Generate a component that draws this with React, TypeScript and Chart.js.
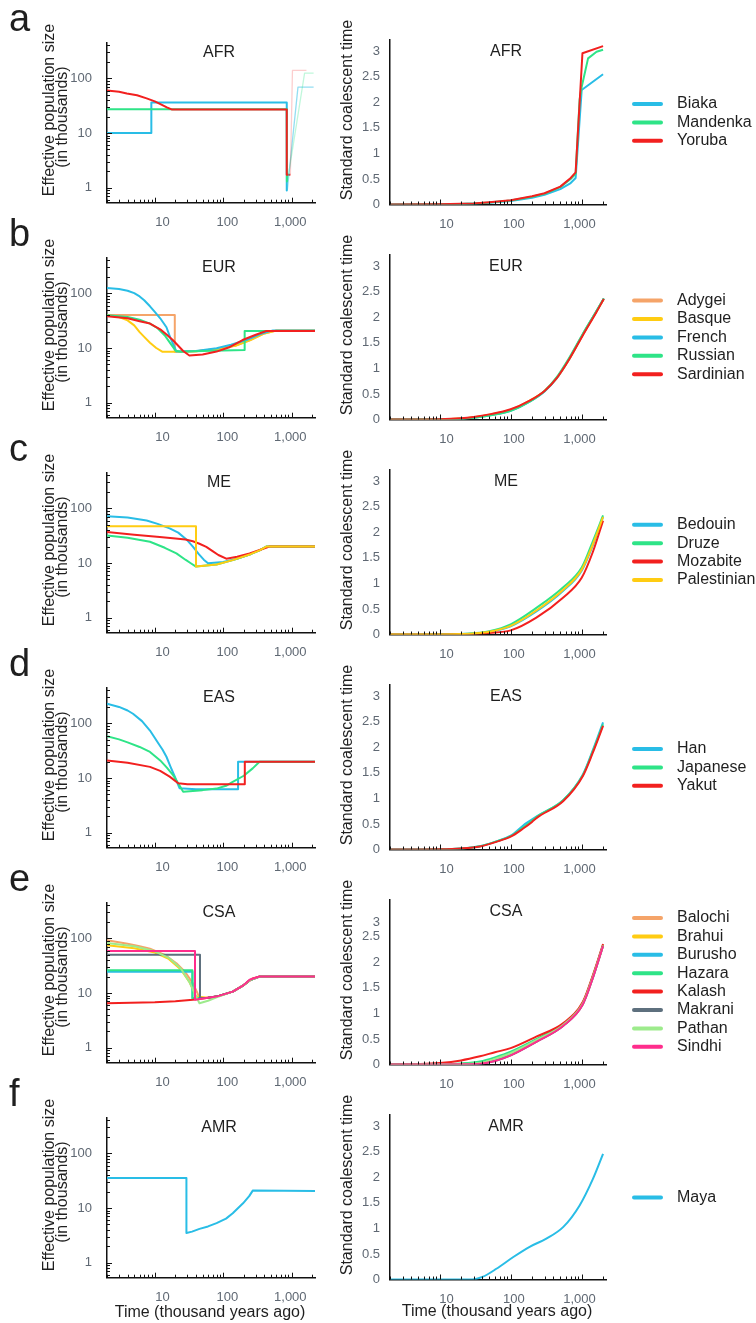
import React, { useEffect, useRef } from 'react';
import { Chart, registerables } from 'chart.js';

Chart.register(...registerables);

const FONT = '"Liberation Sans", Arial, Helvetica, sans-serif';
const TICK_COLOR = '#5f6873';
const TEXT_COLOR = '#1f1f1f';

const BLUE = '#29bde6';
const GREEN = '#2ee487';
const RED = '#f2201f';
const ORANGE = '#f5a469';
const YELLOW = '#ffcc12';
const GRAY = '#5e707e';
const LIGHTGREEN = '#9deb8c';
const PINK = '#ff2d8c';
const BLUE_FADED = 'rgba(41,189,230,0.5)';
const GREEN_FADED = 'rgba(46,228,135,0.3)';
const RED_FADED = 'rgba(242,32,31,0.22)';

// ---------- axes / ticks ----------
const X_MIN = 2;
const X_MAX = 2200;
const xTickValues = [10, 100, 1000];
const xTickLabels = ['10', '100', '1,000'];
const xMinorTickValues = [2, 3, 4, 5, 6, 7, 8, 9, 20, 30, 40, 50, 60, 70, 80, 90, 200, 300, 400, 500, 600, 700, 800, 900, 2000];
const NE_MIN = 0.53;
const NE_MAX = 450;
const neYTickValues = [1, 10, 100];
const neYTickLabels = ['1', '10', '100'];
const neYMinorTickValues = [0.6, 0.7, 0.8, 0.9, 2, 3, 4, 5, 6, 7, 8, 9, 20, 30, 40, 50, 60, 70, 80, 90, 200, 300, 400];
const COAL_MAX = 3.22;
const coalYTickValues = [0, 0.5, 1, 1.5, 2, 2.5, 3];
const coalYTickLabels = ['0', '0.5', '1', '1.5', '2', '2.5', '3'];
const csaCoalYTickValues = [0, 0.5, 1, 1.5, 2, 2.5, 2.78];

type Pt = [number, number];

// ---------- a: AFR ----------
const afrNeBiaka: Pt[] = [[2, 10], [8.9, 10], [8.9, 36], [850, 36], [850, 0.89], [865, 0.89]];
const afrNeBiakaAncient: Pt[] = [[865, 0.89], [1240, 69], [2100, 69]];
const afrNeMandenka: Pt[] = [[2, 27.3], [850, 27.3], [855, 1.3], [870, 1.3]];
const afrNeMandenkaAncient: Pt[] = [[870, 1.3], [1550, 125], [2100, 125]];
const afrNeYoruba: Pt[] = [[2, 60], [3, 57], [3.9, 53], [5.5, 49], [7.6, 43], [10, 38], [12.5, 33], [15, 29.5], [17.6, 27], [850, 27], [850, 1.72], [960, 1.72]];
const afrNeYorubaAncient: Pt[] = [[960, 1.72], [1030, 140], [1650, 140]];

const afrCoalBiaka: Pt[] = [[2, 0], [10, 0.003], [20, 0.01], [30, 0.018], [50, 0.035], [100, 0.07], [200, 0.13], [300, 0.19], [500, 0.3], [700, 0.42], [822, 0.52], [1000, 2.24], [2000, 2.55]];
const afrCoalMandenka: Pt[] = [[2, 0], [10, 0.004], [20, 0.012], [30, 0.02], [50, 0.04], [100, 0.08], [200, 0.15], [300, 0.21], [500, 0.34], [700, 0.5], [822, 0.6], [935, 2.05], [1000, 2.3], [1230, 2.86], [1620, 2.99], [2000, 3.03]];
const afrCoalYoruba: Pt[] = [[2, 0], [10, 0.005], [20, 0.013], [30, 0.022], [50, 0.045], [100, 0.085], [200, 0.16], [300, 0.22], [500, 0.35], [700, 0.52], [822, 0.63], [1025, 2.96], [2000, 3.1]];

// ---------- b: EUR ----------
const eurNeAdygei: Pt[] = [[2, 40], [19.6, 40], [19.6, 8.5], [40, 8.7], [80, 9.6], [150, 11], [250, 14], [400, 18.5], [600, 21], [2200, 21]];
const eurNeBasque: Pt[] = [[2, 40], [3, 37], [4, 32], [5, 26], [6, 19.5], [7, 16], [8.5, 12.5], [10.5, 10], [13, 8.5], [20, 8.5], [40, 8.7], [80, 9.6], [150, 11], [250, 14], [400, 18.5], [600, 21], [2200, 21]];
const eurNeFrench: Pt[] = [[2, 125], [3, 120], [4, 112], [5, 101], [6, 88], [7, 75], [8.5, 58], [10, 46], [12, 35], [14.8, 24], [17, 15], [19, 11], [20.7, 8.6], [40, 8.8], [80, 9.9], [130, 11.5], [219, 14], [350, 18], [535, 21], [2200, 21]];
const eurNeRussian: Pt[] = [[2, 40], [4, 37], [6, 33], [8.5, 28], [11, 23], [14, 17], [17, 12], [20, 9], [24, 8.5], [50, 8.8], [100, 9], [206, 9.2], [206, 20.5], [2200, 20.5]];
const eurNeSardinian: Pt[] = [[2, 38], [4, 35], [6, 31], [8.5, 28], [12, 22], [15, 17.5], [18.3, 14], [22, 11], [26, 8.8], [32, 7.3], [50, 7.6], [80, 8.6], [120, 10.2], [192, 14], [300, 17.5], [427, 20.5], [2200, 20.5]];

const eurCoalAdygei: Pt[] = [[2, 0], [10, 0.005], [20, 0.02], [30, 0.04], [50, 0.09], [100, 0.18], [185, 0.36], [300, 0.56], [440, 0.81], [675, 1.2], [1040, 1.67], [1610, 2.12], [2050, 2.37]];
const eurCoalBasque: Pt[] = [[2, 0], [10, 0.006], [20, 0.022], [30, 0.045], [50, 0.095], [100, 0.19], [185, 0.37], [300, 0.56], [440, 0.8], [675, 1.19], [1040, 1.66], [1610, 2.11], [2050, 2.36]];
const eurCoalFrench: Pt[] = [[2, 0], [10, 0.004], [20, 0.015], [30, 0.035], [50, 0.08], [100, 0.17], [185, 0.35], [300, 0.55], [440, 0.8], [675, 1.2], [1040, 1.67], [1610, 2.12], [2050, 2.37]];
const eurCoalRussian: Pt[] = [[2, 0], [10, 0.004], [20, 0.016], [30, 0.036], [50, 0.08], [100, 0.17], [185, 0.35], [300, 0.56], [440, 0.82], [675, 1.22], [1040, 1.68], [1610, 2.12], [2050, 2.37]];
const eurCoalSardinian: Pt[] = [[2, 0], [10, 0.006], [20, 0.024], [30, 0.05], [50, 0.1], [100, 0.2], [185, 0.37], [300, 0.56], [440, 0.8], [675, 1.19], [1040, 1.65], [1610, 2.1], [2050, 2.36]];

// ---------- c: ME ----------
const meNeBedouin: Pt[] = [[2, 72], [4, 68], [7.6, 60], [11, 52], [16.5, 43], [22, 36], [29, 27], [36, 20], [44, 14.5], [52, 11.5], [60, 9.9], [100, 10.4], [160, 12], [250, 14.5], [340, 17], [427, 20], [2200, 20]];
const meNeDruze: Pt[] = [[2, 32], [4, 29], [8.5, 24.5], [14, 19], [20.7, 15], [28, 11.5], [34, 9.8], [40, 8.6], [80, 9.4], [138, 11.3], [250, 14.5], [340, 17], [427, 20], [2200, 20]];
const meNeMozabite: Pt[] = [[2, 37], [5, 33], [11.8, 30], [20, 28], [28, 27], [36, 25], [45, 22.5], [56.6, 19.8], [70, 16.5], [85, 14], [111, 12], [160, 13], [243, 15], [350, 17.5], [475, 20], [2200, 20]];
const meNePalestinian: Pt[] = [[2, 47], [40, 47], [40, 8.6], [80, 9.4], [138, 11.3], [250, 14.5], [340, 17], [427, 20], [2200, 20]];

const meCoalBedouin: Pt[] = [[2, 0], [10, 0.002], [20, 0.008], [30, 0.02], [50, 0.05], [100, 0.16], [230, 0.45], [545, 0.85], [1000, 1.25], [1440, 1.75], [2000, 2.3]];
const meCoalDruze: Pt[] = [[2, 0], [10, 0.003], [20, 0.01], [30, 0.025], [50, 0.065], [100, 0.2], [230, 0.52], [545, 0.92], [1000, 1.31], [1440, 1.83], [2000, 2.33]];
const meCoalMozabite: Pt[] = [[2, 0], [10, 0.002], [20, 0.005], [30, 0.01], [50, 0.03], [100, 0.08], [230, 0.33], [545, 0.72], [1000, 1.11], [1440, 1.62], [2000, 2.23]];
const meCoalPalestinian: Pt[] = [[2, 0], [10, 0.002], [20, 0.008], [30, 0.02], [50, 0.055], [100, 0.17], [230, 0.47], [545, 0.87], [1000, 1.27], [1440, 1.77], [2000, 2.3]];

// ---------- d: EAS ----------
const easNeHan: Pt[] = [[2, 229], [3, 200], [4, 172], [4.8, 150], [6.5, 110], [8.5, 74], [11, 45], [13, 33], [14.8, 24.5], [17, 16], [20, 10], [23, 6.5], [40, 6.2], [165, 6.2], [165, 19.8], [2200, 19.8]];
const easNeJapanese: Pt[] = [[2, 58], [3, 51], [4, 45], [6, 37], [8.5, 30], [12, 21], [15, 15.5], [18.5, 11.3], [22, 8], [26, 5.6], [50, 6], [80, 6.4], [110, 7.2], [138, 8.5], [200, 11], [270, 15], [340, 19.8], [2200, 19.8]];
const easNeYakut: Pt[] = [[2, 21], [4, 19], [8.5, 16], [12, 13.5], [16.5, 10.6], [22, 8], [30, 7.7], [207, 7.7], [207, 19.8], [2200, 19.8]];

const easCoalHan: Pt[] = [[2, 0], [10, 0.005], [20, 0.02], [37, 0.065], [63, 0.16], [100, 0.27], [150, 0.47], [168, 0.52], [233, 0.65], [552, 0.97], [1040, 1.47], [1440, 1.95], [2000, 2.49]];
const easCoalJapanese: Pt[] = [[2, 0], [10, 0.005], [20, 0.02], [37, 0.065], [63, 0.16], [100, 0.26], [150, 0.43], [200, 0.56], [233, 0.64], [552, 0.97], [1040, 1.46], [1440, 1.93], [2000, 2.45]];
const easCoalYakut: Pt[] = [[2, 0], [10, 0.005], [20, 0.02], [37, 0.06], [63, 0.15], [100, 0.25], [150, 0.41], [200, 0.54], [233, 0.62], [552, 0.95], [1040, 1.44], [1440, 1.9], [2000, 2.42]];

// ---------- e: CSA ----------
const csaNeBalochi: Pt[] = [[2, 92], [4, 80], [6, 72], [8.5, 65], [14, 50], [20.7, 35], [28, 24], [36, 15], [42, 10], [45, 8], [60, 8.2], [80, 8.6], [138, 10.6], [200, 14], [243, 17], [340, 20], [2200, 20]];
const csaNeBrahui: Pt[] = [[2, 75], [5, 66], [10, 55], [16, 42], [24, 27], [32, 16], [37, 11], [40, 8.6], [60, 8.2], [80, 8.6], [138, 10.6], [200, 14], [243, 17], [340, 20], [2200, 20]];
const csaNeBurusho: Pt[] = [[2, 24.5], [35.5, 24.5], [35.5, 8], [60, 8.2], [80, 8.6], [138, 10.6], [200, 14], [243, 17], [340, 20], [2200, 20]];
const csaNeHazara: Pt[] = [[2, 26], [35.5, 26], [35.5, 8], [60, 8.2], [80, 8.6], [138, 10.6], [200, 14], [243, 17], [340, 20], [2200, 20]];
const csaNeKalash: Pt[] = [[2, 6.5], [10, 6.8], [20, 7.1], [36, 7.5], [60, 8.2], [80, 8.6], [138, 10.6], [200, 14], [270, 18.5], [340, 20], [2200, 20]];
const csaNeMakrani: Pt[] = [[2, 50], [45.8, 50], [45.8, 8], [60, 8.2], [80, 8.6], [138, 10.6], [200, 14], [243, 17], [340, 20], [2200, 20]];
const csaNePathan: Pt[] = [[2, 82], [5, 72], [10, 58], [16, 44], [24, 28], [32, 16], [38, 10], [45, 6.5], [60, 7.2], [80, 8.3], [138, 10.6], [200, 14], [243, 17], [340, 20], [2200, 20]];
const csaNeSindhi: Pt[] = [[2, 59], [38.7, 59], [38.7, 7.5], [60, 8.2], [80, 8.6], [138, 10.6], [200, 14], [243, 17.5], [340, 20], [2200, 20]];

const csaCoalBalochi: Pt[] = [[2, 0], [10, 0.003], [20, 0.01], [37, 0.03], [60, 0.1], [100, 0.21], [233, 0.48], [552, 0.78], [1040, 1.21], [1440, 1.73], [2000, 2.34]];
const csaCoalBrahui: Pt[] = [[2, 0], [10, 0.003], [20, 0.01], [37, 0.03], [60, 0.1], [100, 0.21], [233, 0.48], [552, 0.78], [1040, 1.2], [1440, 1.72], [2000, 2.33]];
const csaCoalBurusho: Pt[] = [[2, 0], [10, 0.002], [20, 0.006], [37, 0.02], [60, 0.08], [100, 0.19], [233, 0.46], [552, 0.77], [1040, 1.19], [1440, 1.71], [2000, 2.33]];
const csaCoalHazara: Pt[] = [[2, 0], [10, 0.005], [20, 0.02], [37, 0.06], [60, 0.14], [100, 0.25], [233, 0.5], [552, 0.79], [1040, 1.21], [1440, 1.73], [2000, 2.34]];
const csaCoalKalash: Pt[] = [[2, 0], [5, 0.01], [10, 0.03], [20, 0.08], [37, 0.16], [60, 0.24], [100, 0.32], [233, 0.55], [552, 0.81], [1040, 1.23], [1440, 1.75], [2000, 2.36]];
const csaCoalMakrani: Pt[] = [[2, 0], [10, 0.002], [20, 0.005], [37, 0.015], [60, 0.07], [100, 0.18], [233, 0.45], [552, 0.76], [1040, 1.18], [1440, 1.7], [2000, 2.32]];
const csaCoalPathan: Pt[] = [[2, 0], [10, 0.003], [20, 0.01], [37, 0.03], [60, 0.11], [100, 0.22], [233, 0.48], [552, 0.78], [1040, 1.2], [1440, 1.72], [2000, 2.33]];
const csaCoalSindhi: Pt[] = [[2, 0], [10, 0.002], [20, 0.005], [37, 0.015], [60, 0.07], [100, 0.18], [233, 0.45], [552, 0.76], [1040, 1.18], [1440, 1.7], [2000, 2.32]];

// ---------- f: AMR ----------
const amrNeMaya: Pt[] = [[2, 35.6], [29, 35.6], [29, 3.5], [35, 3.7], [45, 4.15], [60, 4.6], [80, 5.3], [110, 6.4], [138, 8], [195, 12.2], [240, 16.5], [272, 21], [2200, 20.5]];
const amrCoalMaya: Pt[] = [[2, 0], [29, 0], [40, 0.05], [63, 0.21], [109, 0.44], [185, 0.64], [318, 0.8], [552, 1.03], [935, 1.45], [1440, 1.97], [2000, 2.46]];

interface SeriesDef { label: string; color: string; data: Pt[]; faded?: boolean }
interface PanelDef {
  letter: string;
  title: string;
  ne: SeriesDef[];
  coal: SeriesDef[];
  smoothCoal: boolean;
  coalTicks: number[];
}

const panels: PanelDef[] = [
  {
    letter: 'a', title: 'AFR', smoothCoal: false, coalTicks: coalYTickValues,
    ne: [
      { label: 'Biaka', color: BLUE, data: afrNeBiaka },
      { label: 'Mandenka', color: GREEN, data: afrNeMandenka },
      { label: 'Yoruba', color: RED, data: afrNeYoruba },
      { label: '', color: BLUE_FADED, data: afrNeBiakaAncient, faded: true },
      { label: '', color: GREEN_FADED, data: afrNeMandenkaAncient, faded: true },
      { label: '', color: RED_FADED, data: afrNeYorubaAncient, faded: true },
    ],
    coal: [
      { label: 'Biaka', color: BLUE, data: afrCoalBiaka },
      { label: 'Mandenka', color: GREEN, data: afrCoalMandenka },
      { label: 'Yoruba', color: RED, data: afrCoalYoruba },
    ],
  },
  {
    letter: 'b', title: 'EUR', smoothCoal: true, coalTicks: coalYTickValues,
    ne: [
      { label: 'Adygei', color: ORANGE, data: eurNeAdygei },
      { label: 'Basque', color: YELLOW, data: eurNeBasque },
      { label: 'French', color: BLUE, data: eurNeFrench },
      { label: 'Russian', color: GREEN, data: eurNeRussian },
      { label: 'Sardinian', color: RED, data: eurNeSardinian },
    ],
    coal: [
      { label: 'Adygei', color: ORANGE, data: eurCoalAdygei },
      { label: 'Basque', color: YELLOW, data: eurCoalBasque },
      { label: 'French', color: BLUE, data: eurCoalFrench },
      { label: 'Russian', color: GREEN, data: eurCoalRussian },
      { label: 'Sardinian', color: RED, data: eurCoalSardinian },
    ],
  },
  {
    letter: 'c', title: 'ME', smoothCoal: true, coalTicks: coalYTickValues,
    ne: [
      { label: 'Bedouin', color: BLUE, data: meNeBedouin },
      { label: 'Druze', color: GREEN, data: meNeDruze },
      { label: 'Mozabite', color: RED, data: meNeMozabite },
      { label: 'Palestinian', color: YELLOW, data: meNePalestinian },
    ],
    coal: [
      { label: 'Bedouin', color: BLUE, data: meCoalBedouin },
      { label: 'Druze', color: GREEN, data: meCoalDruze },
      { label: 'Mozabite', color: RED, data: meCoalMozabite },
      { label: 'Palestinian', color: YELLOW, data: meCoalPalestinian },
    ],
  },
  {
    letter: 'd', title: 'EAS', smoothCoal: true, coalTicks: coalYTickValues,
    ne: [
      { label: 'Han', color: BLUE, data: easNeHan },
      { label: 'Japanese', color: GREEN, data: easNeJapanese },
      { label: 'Yakut', color: RED, data: easNeYakut },
    ],
    coal: [
      { label: 'Han', color: BLUE, data: easCoalHan },
      { label: 'Japanese', color: GREEN, data: easCoalJapanese },
      { label: 'Yakut', color: RED, data: easCoalYakut },
    ],
  },
  {
    letter: 'e', title: 'CSA', smoothCoal: true, coalTicks: csaCoalYTickValues,
    ne: [
      { label: 'Balochi', color: ORANGE, data: csaNeBalochi },
      { label: 'Brahui', color: YELLOW, data: csaNeBrahui },
      { label: 'Burusho', color: BLUE, data: csaNeBurusho },
      { label: 'Hazara', color: GREEN, data: csaNeHazara },
      { label: 'Kalash', color: RED, data: csaNeKalash },
      { label: 'Makrani', color: GRAY, data: csaNeMakrani },
      { label: 'Pathan', color: LIGHTGREEN, data: csaNePathan },
      { label: 'Sindhi', color: PINK, data: csaNeSindhi },
    ],
    coal: [
      { label: 'Balochi', color: ORANGE, data: csaCoalBalochi },
      { label: 'Brahui', color: YELLOW, data: csaCoalBrahui },
      { label: 'Burusho', color: BLUE, data: csaCoalBurusho },
      { label: 'Hazara', color: GREEN, data: csaCoalHazara },
      { label: 'Kalash', color: RED, data: csaCoalKalash },
      { label: 'Makrani', color: GRAY, data: csaCoalMakrani },
      { label: 'Pathan', color: LIGHTGREEN, data: csaCoalPathan },
      { label: 'Sindhi', color: PINK, data: csaCoalSindhi },
    ],
  },
  {
    letter: 'f', title: 'AMR', smoothCoal: true, coalTicks: coalYTickValues,
    ne: [{ label: 'Maya', color: BLUE, data: amrNeMaya }],
    coal: [{ label: 'Maya', color: BLUE, data: amrCoalMaya }],
  },
];

// ---------- layout ----------
const ROW_H = 215;
const PAGE_H = 1323;
const LEFT_W = 330;
const RIGHT_X = 330;
const RIGHT_W = 426;
const NE_TOP = 42.7;
const NE_PLOT_H = 160;
const COAL_TOP = 40;
const COAL_PLOT_H = 164.5;

const decorPlugin = {
  id: 'decor',
  afterDraw(chart: any, _args: any, o: any) {
    const ctx = chart.ctx as CanvasRenderingContext2D;
    const ca = chart.chartArea;
    const xs = chart.scales.x;
    const ys = chart.scales.y;
    ctx.save();
    ctx.strokeStyle = '#111';
    ctx.lineWidth = 1;
    ctx.beginPath();
    for (const v of xMinorTickValues) {
      const p = Math.round(xs.getPixelForValue(v)) + 0.5;
      ctx.moveTo(p, ca.bottom);
      ctx.lineTo(p, ca.bottom - 3);
    }
    for (const v of xTickValues) {
      const p = Math.round(xs.getPixelForValue(v)) + 0.5;
      ctx.moveTo(p, ca.bottom);
      ctx.lineTo(p, ca.bottom - 5);
    }
    if (o.logY) {
      for (const v of neYMinorTickValues) {
        const q = Math.round(ys.getPixelForValue(v)) + 0.5;
        ctx.moveTo(ca.left, q);
        ctx.lineTo(ca.left + 3, q);
      }
      for (const v of neYTickValues) {
        const q = Math.round(ys.getPixelForValue(v)) + 0.5;
        ctx.moveTo(ca.left, q);
        ctx.lineTo(ca.left + 5, q);
      }
    }
    ctx.stroke();

    ctx.fillStyle = TEXT_COLOR;
    ctx.textAlign = 'center';
    ctx.textBaseline = 'middle';
    ctx.font = `16px ${FONT}`;
    ctx.fillText(o.title, o.titleX, o.titleY);

    for (const t of o.yTitles) {
      ctx.save();
      ctx.translate(t.x, t.y);
      ctx.rotate(-Math.PI / 2);
      ctx.fillText(t.text, 0, 0);
      ctx.restore();
    }
    if (o.xTitle) {
      ctx.fillText(o.xTitle.text, o.xTitle.x, o.xTitle.y);
    }
    if (o.letter) {
      ctx.font = `38px ${FONT}`;
      ctx.textAlign = 'left';
      ctx.textBaseline = 'alphabetic';
      ctx.fillText(o.letter, 9, 31);
    }
    if (o.legend) {
      const items = chart.data.datasets.filter((d: any) => d.showInLegend);
      const n = items.length;
      items.forEach((d: any, i: number) => {
        const cy = 122.4 + (i - (n - 1) / 2) * 18.4;
        ctx.strokeStyle = d.borderColor;
        ctx.lineWidth = 4;
        ctx.lineCap = 'round';
        ctx.beginPath();
        ctx.moveTo(304, cy);
        ctx.lineTo(331, cy);
        ctx.stroke();
        ctx.fillStyle = TEXT_COLOR;
        ctx.font = `16px ${FONT}`;
        ctx.textAlign = 'left';
        ctx.textBaseline = 'middle';
        ctx.fillText(d.label, 347, cy);
      });
    }
    ctx.restore();
  },
};

function xScale(height: number, labelOffset: number) {
  return {
    type: 'logarithmic',
    position: 'bottom',
    min: X_MIN,
    max: X_MAX,
    afterBuildTicks: (s: any) => { s.ticks = xTickValues.map((v) => ({ value: v })); },
    afterFit: (s: any) => { s.height = height; },
    grid: { display: false, drawTicks: false },
    border: { display: true, color: '#111', width: 1.5 },
    ticks: {
      autoSkip: false, maxRotation: 0, minRotation: 0, align: 'end', labelOffset, padding: 12,
      color: TICK_COLOR, font: { family: FONT, size: 13 },
      callback: (_v: any, i: number) => xTickLabels[i],
    },
  };
}

function makeDatasets(series: SeriesDef[], smooth: boolean, legend: boolean) {
  return series.map((s, i) => ({
    label: s.label,
    data: s.data.map(([x, y]) => ({ x, y })),
    borderColor: s.color,
    backgroundColor: s.color,
    borderWidth: s.faded ? 1.3 : 2,
    pointRadius: 0,
    tension: 0,
    cubicInterpolationMode: smooth ? 'monotone' : 'default',
    fill: false,
    order: series.length - i,
    borderJoinStyle: 'round',
    showInLegend: legend && !s.faded,
  }));
}

function buildNeConfig(p: PanelDef, row: number, h: number): any {
  const last = row === panels.length - 1;
  return {
    type: 'line',
    data: { datasets: makeDatasets(p.ne, false, false) },
    options: {
      responsive: false, animation: false, devicePixelRatio: 1, events: [],
      layout: { padding: { left: 0, right: 15, top: NE_TOP, bottom: 0 } },
      scales: {
        x: xScale(h - NE_TOP - NE_PLOT_H, 15),
        y: {
          type: 'logarithmic', min: NE_MIN, max: NE_MAX,
          afterBuildTicks: (s: any) => { s.ticks = neYTickValues.map((v) => ({ value: v })); },
          afterFit: (s: any) => { s.width = 107; },
          grid: { display: false, drawTicks: false },
          border: { display: true, color: '#111', width: 1.5 },
          ticks: {
            autoSkip: false, padding: 15, color: TICK_COLOR, font: { family: FONT, size: 13 },
            callback: (_v: any, i: number) => neYTickLabels[i],
          },
        },
      },
      plugins: {
        legend: { display: false },
        tooltip: { enabled: false },
        decor: {
          logY: true,
          letter: p.letter,
          title: p.title, titleX: 219, titleY: 52.5,
          yTitles: [
            { text: 'Effective population size', x: 50, y: 110 },
            { text: '(in thousands)', x: 62.5, y: 117 },
          ],
          xTitle: last ? { text: 'Time (thousand years ago)', x: 210, y: 238 } : null,
        },
      },
    },
    plugins: [decorPlugin],
  };
}

function buildCoalConfig(p: PanelDef, row: number, h: number): any {
  const last = row === panels.length - 1;
  return {
    type: 'line',
    data: { datasets: makeDatasets(p.coal, p.smoothCoal, true) },
    options: {
      responsive: false, animation: false, devicePixelRatio: 1, events: [],
      layout: { padding: { left: 0, right: 150, top: COAL_TOP, bottom: 0 } },
      scales: {
        x: xScale(h - COAL_TOP - COAL_PLOT_H, 14),
        y: {
          type: 'linear', min: 0, max: COAL_MAX,
          afterBuildTicks: (s: any) => { s.ticks = p.coalTicks.map((v) => ({ value: v })); },
          afterFit: (s: any) => { s.width = 60; },
          grid: { display: false, drawTicks: false },
          border: { display: true, color: '#111', width: 1.5 },
          ticks: {
            autoSkip: false, padding: 10, color: TICK_COLOR, font: { family: FONT, size: 13 },
            callback: (_v: any, i: number) => coalYTickLabels[i],
          },
        },
      },
      plugins: {
        legend: { display: false },
        tooltip: { enabled: false },
        decor: {
          logY: false,
          letter: null,
          title: p.title, titleX: 176, titleY: 52,
          yTitles: [{ text: 'Standard coalescent time', x: 18, y: 110 }],
          xTitle: last ? { text: 'Time (thousand years ago)', x: 167, y: 237 } : null,
          legend: true,
        },
      },
    },
    plugins: [decorPlugin],
  };
}

function ChartCanvas(props: { build: (h: number) => any; left: number; top: number; width: number; height: number }) {
  const { build, left, top, width, height } = props;
  const ref = useRef<HTMLCanvasElement | null>(null);
  useEffect(() => {
    if (!ref.current) return;
    const chart = new Chart(ref.current, build(height));
    return () => chart.destroy();
  }, []);
  return (
    <canvas
      ref={ref}
      width={width}
      height={height}
      style={{ position: 'absolute', left, top, width, height, display: 'block' }}
    />
  );
}

export default function App() {
  return (
    <div style={{ position: 'absolute', left: 0, top: 0, width: 756, height: PAGE_H, overflow: 'hidden', background: '#fff' }}>
      {panels.map((p, row) => {
        const top = row * ROW_H;
        const h = row === panels.length - 1 ? PAGE_H - top : 232;
        return (
          <React.Fragment key={p.title}>
            <ChartCanvas build={(hh) => buildNeConfig(p, row, hh)} left={0} top={top} width={LEFT_W} height={h} />
            <ChartCanvas build={(hh) => buildCoalConfig(p, row, hh)} left={RIGHT_X} top={top} width={RIGHT_W} height={h} />
          </React.Fragment>
        );
      })}
    </div>
  );
}
